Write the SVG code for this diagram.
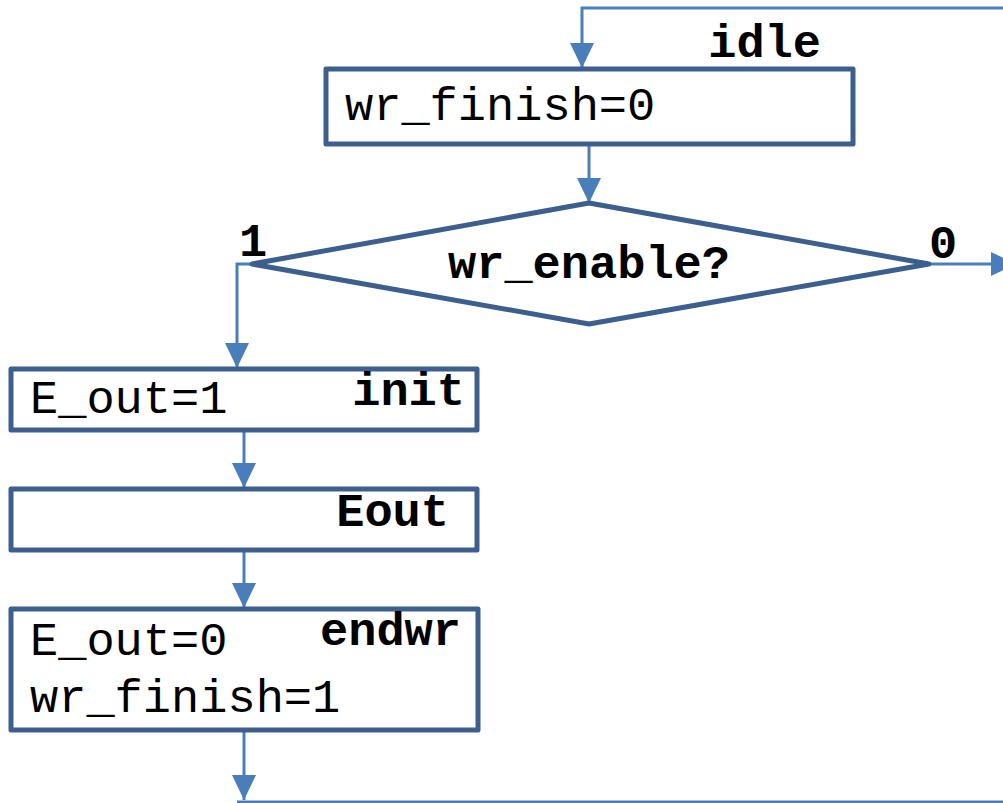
<svg xmlns="http://www.w3.org/2000/svg" width="1003" height="803" viewBox="0 0 1003 803">
  <style>
    .box { fill: #ffffff; stroke: #3D5F8D; stroke-width: 5; stroke-linejoin: round; }
    .wire { fill: none; stroke: #4A7EBB; stroke-width: 3; }
    .code { font-family: "Liberation Mono", "Courier New", monospace; font-size: 47px; fill: #000000; }
    .state { font-family: "Liberation Mono", "Courier New", monospace; font-size: 47px; font-weight: bold; fill: #000000; }
  </style>
  <defs>
    <marker id="arrow" markerUnits="userSpaceOnUse" markerWidth="26" markerHeight="26" viewBox="0 0 26 24" refX="25" refY="12" orient="auto">
      <path d="M0,0 L25,12 L0,24 Z" fill="#4A7EBB"/>
    </marker>
  </defs>

  <rect width="1003" height="803" fill="#ffffff"/>

  <!-- connectors -->
  <g id="connectors">
    <path class="wire" d="M1003,8 H582 V68" marker-end="url(#arrow)"/>
    <path class="wire" d="M589,144 V203" marker-end="url(#arrow)"/>
    <path class="wire" d="M252,264 H237 V368" marker-end="url(#arrow)"/>
    <path class="wire" d="M929,264 H1016" marker-end="url(#arrow)"/>
    <path class="wire" d="M244,430 V488" marker-end="url(#arrow)"/>
    <path class="wire" d="M244,550 V608" marker-end="url(#arrow)"/>
    <path class="wire" d="M244,730 V800" marker-end="url(#arrow)"/>
    <path class="wire" d="M237,802 H1003" stroke="#A9C3E0"/>
  </g>

  <!-- idle state -->
  <g id="idle">
    <rect class="box" x="326" y="69" width="527" height="75"/>
    <text class="state" x="821" y="57" text-anchor="end">idle</text>
    <text class="code" x="345" y="120">wr_finish=0</text>
  </g>

  <!-- decision -->
  <g id="decision">
    <polygon class="box" points="589,203 929,264 589,324 252,264"/>
    <text class="state" x="589" y="278" text-anchor="middle">wr_enable?</text>
    <text class="state" x="253" y="256" text-anchor="middle">1</text>
    <text class="state" x="943" y="258" text-anchor="middle">0</text>
  </g>

  <!-- init state -->
  <g id="init">
    <rect class="box" x="11" y="369" width="466" height="61"/>
    <text class="state" x="465" y="405" text-anchor="end">init</text>
    <text class="code" x="30" y="413">E_out=1</text>
  </g>

  <!-- Eout state -->
  <g id="eout">
    <rect class="box" x="11" y="489" width="466" height="61"/>
    <text class="state" x="449" y="526" text-anchor="end">Eout</text>
  </g>

  <!-- endwr state -->
  <g id="endwr">
    <rect class="box" x="11" y="609" width="467" height="121"/>
    <text class="state" x="461" y="645" text-anchor="end">endwr</text>
    <text class="code" x="30" y="655">E_out=0</text>
    <text class="code" x="30" y="712">wr_finish=1</text>
  </g>
</svg>
